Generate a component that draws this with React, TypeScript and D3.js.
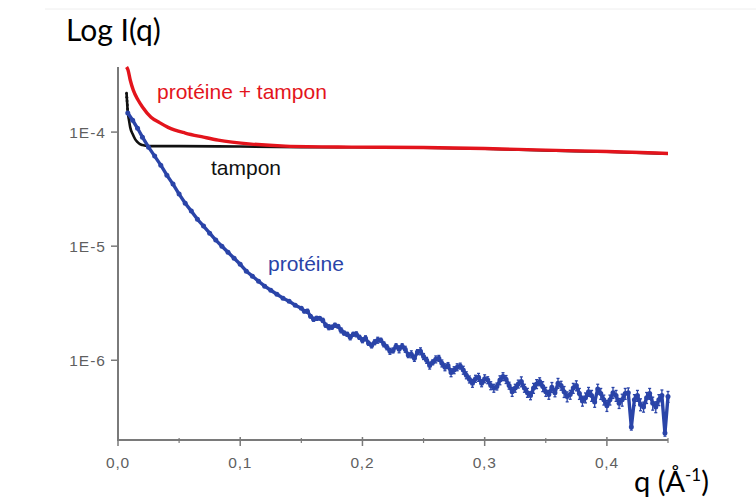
import * as d3 from 'd3';

// q in Å^-1, intensities
const proteineQ = [
  0.008, 0.012, 0.016, 0.02, 0.025, 0.03, 0.035, 0.04, 0.045, 0.05, 0.055, 0.06, 0.065, 0.07, 0.075,
  0.08, 0.085, 0.09, 0.095, 0.1, 0.105, 0.11, 0.115, 0.12, 0.125, 0.13, 0.135, 0.14, 0.145, 0.15,
  0.1525, 0.155, 0.1575, 0.16, 0.1625, 0.165, 0.1675, 0.17, 0.1725, 0.175, 0.1775, 0.18, 0.1825, 0.185,
  0.1875, 0.19, 0.1925, 0.195, 0.1975, 0.2, 0.2025, 0.205, 0.2075, 0.21, 0.2125, 0.215, 0.2175, 0.22,
  0.2225, 0.225, 0.2275, 0.23, 0.2325, 0.235, 0.2375, 0.24, 0.2425, 0.245, 0.2475, 0.25, 0.2525, 0.255,
  0.2575, 0.26, 0.2625, 0.265, 0.2675, 0.27, 0.2725, 0.275, 0.2775, 0.28, 0.2825, 0.285, 0.2875, 0.29,
  0.2925, 0.295, 0.2975, 0.3, 0.3025, 0.305, 0.3075, 0.31, 0.3125, 0.315, 0.3175, 0.32, 0.3225, 0.325,
  0.3275, 0.33, 0.3325, 0.335, 0.3375, 0.34, 0.3425, 0.345, 0.3475, 0.35, 0.3525, 0.355, 0.3575, 0.36,
  0.3625, 0.365, 0.3675, 0.37, 0.3725, 0.375, 0.3775, 0.38, 0.3825, 0.385, 0.3875, 0.39, 0.3925, 0.395,
  0.3975, 0.4, 0.4025, 0.405, 0.4075, 0.41, 0.4125, 0.415, 0.4175, 0.42, 0.4225, 0.425, 0.4275, 0.43,
  0.4325, 0.435, 0.4375, 0.44, 0.4425, 0.445, 0.4475, 0.45,
];
const proteineI = [
  1.47e-4, 1.27e-4, 1.08e-4, 9.03e-5, 7.38e-5, 6.16e-5, 5.13e-5, 4.19e-5, 3.5e-5, 2.86e-5, 2.38e-5,
  2.03e-5, 1.72e-5, 1.5e-5, 1.3e-5, 1.13e-5, 1.0e-5, 8.84e-6, 7.83e-6, 6.94e-6, 6.03e-6, 5.46e-6,
  4.93e-6, 4.46e-6, 4.11e-6, 3.79e-6, 3.5e-6, 3.29e-6, 3.04e-6, 2.85e-6,
  2.69e-6, 2.69e-6, 2.43e-6, 2.29e-6, 2.33e-6, 2.33e-6, 2.24e-6, 2.03e-6, 1.95e-6, 1.95e-6, 2.03e-6,
  1.99e-6, 1.83e-6, 1.73e-6, 1.69e-6, 1.59e-6, 1.69e-6, 1.69e-6, 1.59e-6, 1.5e-6,
  1.56e-6, 1.41e-6, 1.35e-6, 1.44e-6, 1.5e-6, 1.5e-6, 1.38e-6, 1.3e-6, 1.2e-6, 1.22e-6,
  1.33e-6, 1.25e-6, 1.33e-6, 1.25e-6, 1.11e-6, 1.13e-6, 1.04e-6, 1.18e-6, 1.2e-6, 1.08e-6,
  1.0e-6, 9.0e-7, 9.6e-7, 1.02e-6, 1.04e-6, 9.4e-7, 8.7e-7, 9.0e-7, 7.8e-7, 8.2e-7,
  8.7e-7, 8.9e-7, 8.2e-7, 7.4e-7, 6.8e-7, 6.3e-7, 6.9e-7, 7.1e-7, 6.3e-7, 6.9e-7,
  6.7e-7, 6.0e-7, 5.7e-7, 5.9e-7, 6.7e-7, 7.2e-7, 6.8e-7, 6.0e-7, 5.3e-7, 5.7e-7,
  6.2e-7, 6.5e-7, 5.7e-7, 5.2e-7, 4.9e-7, 5.7e-7, 6.2e-7, 6.5e-7, 5.9e-7, 5.3e-7,
  5.0e-7, 5.8e-7, 5.2e-7, 6.3e-7, 6.0e-7, 5.3e-7, 4.8e-7, 5.0e-7, 5.7e-7, 6.0e-7,
  5.1e-7, 4.4e-7, 4.7e-7, 5.3e-7, 4.9e-7, 4.3e-7, 5.6e-7, 5.1e-7, 4.5e-7, 4.0e-7,
  4.5e-7, 5.2e-7, 4.9e-7, 4.2e-7, 4.5e-7, 5.1e-7, 5.2e-7, 2.6e-7, 4.5e-7, 4.9e-7,
  4.1e-7, 3.9e-7, 4.7e-7, 5.1e-7, 4.2e-7, 3.9e-7, 4.5e-7, 4.9e-7, 2.3e-7, 4.8e-7,
];
// relative error bars on protéine points (0 = none drawn)
const proteineErr = [
  0, 0, 0, 0, 0, 0, 0, 0, 0, 0, 0, 0, 0, 0, 0, 0, 0, 0, 0, 0, 0, 0, 0, 0, 0, 0, 0, 0, 0, 0,
  0.03, 0.04, 0.03, 0.04, 0.04, 0.03, 0.04, 0.04, 0.05, 0.04, 0.04, 0.03, 0.05, 0.04, 0.04, 0.05, 0.04, 0.05, 0.04, 0.05,
  0.05, 0.04, 0.05, 0.05, 0.06, 0.04, 0.05, 0.05, 0.06, 0.05, 0.05, 0.07, 0.05, 0.06, 0.05, 0.07, 0.06, 0.05, 0.07, 0.06,
  0.06, 0.07, 0.05, 0.07, 0.06, 0.07, 0.07, 0.06, 0.08, 0.07, 0.07, 0.06, 0.08, 0.07, 0.07, 0.08, 0.07, 0.08, 0.07, 0.08,
  0.07, 0.08, 0.08, 0.07, 0.09, 0.08, 0.08, 0.07, 0.09, 0.08, 0.08, 0.1, 0.08, 0.09, 0.08, 0.1, 0.09, 0.08, 0.1, 0.09,
  0.09, 0.1, 0.08, 0.1, 0.09, 0.11, 0.1, 0.09, 0.1, 0.1, 0.11, 0.1, 0.1, 0.09, 0.11, 0.1, 0.1, 0.11, 0.1, 0.11,
  0.1, 0.11, 0.11, 0.1, 0.12, 0.11, 0.1, 0.06, 0.11, 0.11, 0.12, 0.1, 0.11, 0.11, 0.13, 0.11, 0.11, 0.12, 0.06, 0.11,
];

const mixQ = [0.007, 0.0082, 0.01, 0.0125, 0.0164, 0.02, 0.027, 0.034, 0.041, 0.055, 0.07, 0.082, 0.109, 0.137, 0.191, 0.25, 0.3, 0.35, 0.4, 0.45];
const mixI = [3.72e-4, 3.5e-4, 2.86e-4, 2.33e-4, 1.91e-4, 1.66e-4, 1.35e-4, 1.21e-4, 1.1e-4, 9.8e-5, 9.03e-5, 8.5e-5, 7.85e-5, 7.54e-5, 7.39e-5, 7.32e-5, 7.17e-5, 6.95e-5, 6.75e-5, 6.5e-5];

const tamponQ = [0.007, 0.0072, 0.0074, 0.0076, 0.0078, 0.008, 0.009, 0.01, 0.012, 0.014, 0.016, 0.018, 0.02, 0.025, 0.03, 0.05, 0.1, 0.15, 0.2, 0.25, 0.3, 0.35, 0.4, 0.45];
const tamponI = [2.19e-4, 2.02e-4, 1.87e-4, 1.73e-4, 1.59e-4, 1.5e-4, 1.27e-4, 1.1e-4, 9.6e-5, 8.67e-5, 8.17e-5, 7.85e-5, 7.7e-5, 7.54e-5, 7.54e-5, 7.54e-5, 7.47e-5, 7.39e-5, 7.36e-5, 7.3e-5, 7.15e-5, 6.9e-5, 6.72e-5, 6.47e-5];

const xMajor = [0, 0.1, 0.2, 0.3, 0.4];
const xMinor = [0.05, 0.15, 0.25, 0.35, 0.45];
const yMajor = [1e-4, 1e-5, 1e-6];

const W = 756;
const H = 497;

const x = d3.scaleLinear().domain([0, 0.45]).range([118, 668]);
const y = d3.scaleLog().domain([2e-7, 3.72e-4]).range([440, 67]);

const toPts = (qs: number[], is: number[]) => qs.map((q, i) => [q, is[i]] as [number, number]);
const line = d3.line<[number, number]>().x((d) => x(d[0])).y((d) => y(d[1])).curve(d3.curveMonotoneX);
const rough = d3.line<[number, number]>().x((d) => x(d[0])).y((d) => y(d[1]));

const fmtX = (v: number) => d3.format('.1f')(v).replace('.', ',');
const fmtY = (v: number) => `1E${Math.round(Math.log10(v))}`;

export default function App() {
  const prot = toPts(proteineQ, proteineI);
  const mix = toPts(mixQ, mixI);
  const tamp = toPts(tamponQ, tamponI);
  const axisColor = '#7a7a7a';
  const blue = '#2a44a8';
  const red = '#e3141c';
  const tickFont = { fontFamily: 'Liberation Sans, Arial, sans-serif', fontSize: 15.5, fill: '#5f5f5f' };

  return (
    <svg width={W} height={H} style={{ position: 'fixed', left: 0, top: 0, background: '#fff' }}>
      <line x1={45} x2={W} y1={9} y2={9} stroke="#eee" strokeWidth={1} />

      {/* axes */}
      <line x1={x(0)} x2={x(0)} y1={67} y2={441} stroke={axisColor} strokeWidth={2} />
      <line x1={x(0) - 1} x2={x(0.45)} y1={440} y2={440} stroke={axisColor} strokeWidth={2} />
      {yMajor.map((v) => (
        <g key={v}>
          <line x1={x(0) - 7} x2={x(0)} y1={y(v)} y2={y(v)} stroke={axisColor} strokeWidth={1.5} />
          <text x={x(0) - 12} y={y(v)} dy="0.35em" textAnchor="end" letterSpacing={1} {...tickFont}>
            {fmtY(v)}
          </text>
        </g>
      ))}
      {xMajor.map((v) => (
        <g key={v}>
          <line x1={x(v)} x2={x(v)} y1={437} y2={446} stroke={axisColor} strokeWidth={1.5} />
          <text x={x(v)} y={468} textAnchor="middle" letterSpacing={0.8} {...tickFont}>
            {fmtX(v)}
          </text>
        </g>
      ))}
      {xMinor.map((v) => (
        <line key={v} x1={x(v)} x2={x(v)} y1={438} y2={443} stroke={axisColor} strokeWidth={1.2} />
      ))}

      {/* series */}
      <path d={line(tamp) ?? ''} fill="none" stroke="#111" strokeWidth={2.6} />
      {tamp.filter((d) => d[0] < 0.0085).map((d, i) => (
        <circle key={i} cx={x(d[0])} cy={y(d[1])} r={1.4} fill="#111" />
      ))}
      <path d={line(mix) ?? ''} fill="none" stroke={red} strokeWidth={3.4} />
      <g stroke={blue} strokeWidth={1.3}>
        {prot.map((d, i) =>
          proteineErr[i] > 0 ? (
            <g key={i}>
              <line x1={x(d[0])} x2={x(d[0])} y1={y(d[1] * (1 + proteineErr[i]))} y2={y(d[1] * (1 - proteineErr[i]))} />
              <line x1={x(d[0]) - 1.5} x2={x(d[0]) + 1.5} y1={y(d[1] * (1 - proteineErr[i]))} y2={y(d[1] * (1 - proteineErr[i]))} />
              <line x1={x(d[0]) - 1.5} x2={x(d[0]) + 1.5} y1={y(d[1] * (1 + proteineErr[i]))} y2={y(d[1] * (1 + proteineErr[i]))} />
            </g>
          ) : null,
        )}
      </g>
      <path d={rough(prot) ?? ''} fill="none" stroke={blue} strokeWidth={3.4} strokeLinejoin="round" />
      {prot.map((d, i) => (
        <circle key={i} cx={x(d[0])} cy={y(d[1])} r={2.5} fill={blue} />
      ))}

      {/* labels */}
      <text x={157} y={99} fontFamily="Liberation Sans, Arial, sans-serif" fontSize={21} fill={red}>
        protéine + tampon
      </text>
      <text x={211} y={175} fontFamily="Liberation Sans, Arial, sans-serif" fontSize={21} fill="#111">
        tampon
      </text>
      <text x={268} y={271} fontFamily="Liberation Sans, Arial, sans-serif" fontSize={21} fill={blue}>
        protéine
      </text>
      <text x={66} y={41} fontFamily="Lato, sans-serif" fontSize={30} fill="#000">
        Log I(q)
      </text>
      <text x={634} y={492} fontFamily="Lato, sans-serif" fontSize={29} fill="#000">
        q (Å<tspan fontSize={17} dy={-11}>-1</tspan>
        <tspan dy={11}>)</tspan>
      </text>
    </svg>
  );
}
